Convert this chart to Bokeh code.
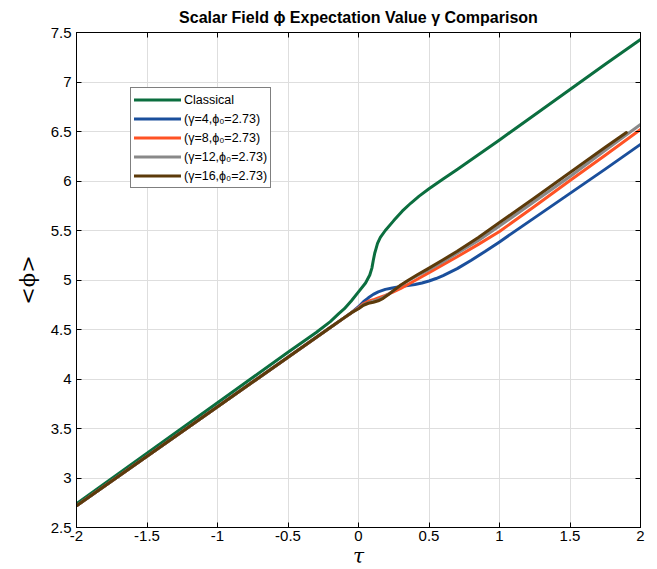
from bokeh.plotting import figure
from bokeh.models import LinearAxis, FixedTicker, Legend, LegendItem, Range1d, CustomLabelingPolicy
from bokeh.embed import file_html
from bokeh.resources import INLINE

# ---------------- data ----------------
tau_classical = [-2.0, -1.5, -1.0, -0.5, -0.3, -0.2, -0.14, -0.1, -0.05, 0.0, 0.05, 0.08, 0.095,
                 0.105, 0.115, 0.125, 0.135, 0.155, 0.19, 0.25, 0.31, 0.37, 0.43, 0.5, 0.6, 0.7,
                 0.85, 1.0, 1.25, 1.5, 1.75, 2.0]
phi_classical = [2.74, 3.25, 3.76, 4.27, 4.47, 4.58, 4.66, 4.71, 4.79, 4.88, 4.97, 5.05, 5.12,
                 5.20, 5.27, 5.32, 5.37, 5.43, 5.50, 5.60, 5.695, 5.775, 5.847, 5.922, 6.02, 6.117,
                 6.265, 6.415, 6.67, 6.925, 7.18, 7.43]

tau_g4 = [-2.0, -1.0, -0.5, -0.2, -0.1, -0.05, 0.0, 0.035, 0.07, 0.105, 0.14, 0.19, 0.24, 0.3,
          0.35, 0.4, 0.45, 0.5, 0.55, 0.6, 0.7, 0.8, 0.9, 1.0, 1.25, 1.5, 1.75, 2.0]
phi_g4 = [2.72, 3.72, 4.22, 4.52, 4.62, 4.67, 4.73, 4.78, 4.82, 4.855, 4.88, 4.905, 4.92, 4.935,
          4.945, 4.955, 4.97, 4.99, 5.015, 5.045, 5.115, 5.20, 5.29, 5.385, 5.63, 5.875, 6.12, 6.37]

tau_g8 = [-2.0, -1.0, -0.5, -0.2, -0.1, -0.05, 0.0, 0.035, 0.07, 0.105, 0.14, 0.19, 0.24, 0.3,
          0.35, 0.42, 0.5, 0.6, 0.7, 0.85, 1.0, 1.25, 1.5, 1.75, 2.0]
phi_g8 = [2.72, 3.72, 4.22, 4.52, 4.62, 4.67, 4.72, 4.76, 4.785, 4.80, 4.82, 4.845, 4.875, 4.915,
          4.955, 5.01, 5.075, 5.155, 5.235, 5.36, 5.49, 5.745, 6.005, 6.26, 6.52]

tau_g12 = [-2.0, -1.0, -0.5, -0.2, -0.1, -0.05, 0.0, 0.035, 0.07, 0.105, 0.14, 0.175, 0.21, 0.25,
           0.3, 0.35, 0.42, 0.5, 0.6, 0.7, 0.85, 1.0, 1.25, 1.5, 1.75, 2.0]
phi_g12 = [2.72, 3.72, 4.22, 4.52, 4.62, 4.67, 4.715, 4.75, 4.77, 4.785, 4.80, 4.825, 4.855, 4.895,
           4.945, 4.99, 5.045, 5.105, 5.185, 5.27, 5.40, 5.545, 5.795, 6.045, 6.31, 6.57]

tau_g16 = [-2.0, -1.0, -0.5, -0.2, -0.1, -0.05, 0.0, 0.035, 0.07, 0.105, 0.14, 0.175, 0.21, 0.25,
           0.3, 0.35, 0.42, 0.5, 0.6, 0.7, 0.85, 1.0, 1.25, 1.5, 1.75, 1.9]
phi_g16 = [2.72, 3.72, 4.22, 4.52, 4.62, 4.67, 4.71, 4.745, 4.765, 4.775, 4.79, 4.815, 4.85, 4.895,
           4.95, 4.995, 5.055, 5.12, 5.205, 5.29, 5.43, 5.58, 5.83, 6.085, 6.34, 6.49]

series_labels = ["Classical", "(γ=4,ϕ₀=2.73)", "(γ=8,ϕ₀=2.73)", "(γ=12,ϕ₀=2.73)", "(γ=16,ϕ₀=2.73)"]
series_colors = ["#0B6E3F", "#1A4F9C", "#FF5224", "#898989", "#5C3A0A"]

x_ticks = [-2, -1.5, -1, -0.5, 0, 0.5, 1, 1.5, 2]
x_tick_labels = ["-2", "-1.5", "-1", "-0.5", "0", "0.5", "1", "1.5", "2"]
y_ticks = [2.5, 3, 3.5, 4, 4.5, 5, 5.5, 6, 6.5, 7, 7.5]
y_tick_labels = ["2.5", "3", "3.5", "4", "4.5", "5", "5.5", "6", "6.5", "7", "7.5"]

FONT = "Liberation Sans"

p = figure(frame_width=564, frame_height=495, x_range=Range1d(-2, 2), y_range=Range1d(2.5, 7.5),
           output_backend="svg", toolbar_location=None,
           min_border_left=76, min_border_right=6, min_border_top=32, min_border_bottom=40)

p.title.text = "Scalar Field ϕ Expectation Value γ Comparison"
p.title.align = "center"
p.title.text_font = FONT
p.title.text_font_size = "16px"
p.title.text_font_style = "bold"
p.title.text_color = "black"
p.title.standoff = 6

p.outline_line_color = "black"
p.outline_line_width = 1
p.background_fill_color = "white"
p.border_fill_color = "white"

for ax, ticks, labels in ((p.xaxis[0], x_ticks, x_tick_labels), (p.yaxis[0], y_ticks, y_tick_labels)):
    ax.ticker = FixedTicker(ticks=ticks)
    ax.major_label_overrides = {t: l for t, l in zip(ticks, labels)}
    ax.major_tick_in = 5
    ax.major_tick_out = 0
    ax.minor_tick_line_color = None
    ax.axis_line_color = "black"
    ax.major_tick_line_color = "black"
    ax.major_label_text_font = FONT
    ax.major_label_text_font_size = "15px"
    ax.major_label_text_color = "black"
    ax.axis_label_text_color = "black"
    ax.axis_label_text_font_style = "normal"

p.xaxis.axis_label = "τ"
p.xaxis.axis_label_text_font = "DejaVu Serif"
p.xaxis.axis_label_text_font_style = "italic"
p.xaxis.axis_label_text_font_size = "20px"
p.xaxis.axis_label_standoff = 0
p.xaxis.major_label_standoff = 3

p.yaxis.axis_label = "<ϕ>"
p.yaxis.axis_label_text_font = "DejaVu Serif"
p.yaxis.axis_label_text_font_size = "21px"
p.yaxis.axis_label_standoff = 8
p.yaxis.major_label_standoff = 5

# inward ticks on top and right (box style), no labels
no_labels = CustomLabelingPolicy(code="for (const i of indices) { indices.unset(i) } return indices")
top = LinearAxis(ticker=FixedTicker(ticks=x_ticks), major_tick_in=5, major_tick_out=0,
                 minor_tick_line_color=None, major_label_policy=no_labels,
                 major_label_text_font_size="1px",
                 major_label_standoff=0, axis_line_color="black")
right = LinearAxis(ticker=FixedTicker(ticks=y_ticks), major_tick_in=5, major_tick_out=0,
                   minor_tick_line_color=None, major_label_policy=no_labels,
                   major_label_text_font_size="1px",
                   major_label_standoff=0, axis_line_color="black")
p.add_layout(top, "above")
p.add_layout(right, "right")

p.grid.grid_line_color = "#DEDEDE"
p.grid.grid_line_width = 1

series = [(tau_classical, phi_classical), (tau_g4, phi_g4), (tau_g8, phi_g8),
          (tau_g12, phi_g12), (tau_g16, phi_g16)]
items = []
for (xs, ys), lab, col in zip(series, series_labels, series_colors):
    r = p.line(xs, ys, line_color=col, line_width=3, line_join="round", line_cap="round")
    items.append(LegendItem(label=lab, renderers=[r]))

legend = Legend(items=items, location=(54, 339))
legend.border_line_color = "black"
legend.border_line_width = 1
legend.background_fill_color = "white"
legend.background_fill_alpha = 1
legend.label_text_font = FONT
legend.label_text_font_size = "12.5px"
legend.label_text_color = "black"
legend.glyph_width = 47
legend.glyph_height = 17
legend.label_height = 17
legend.label_standoff = 3
legend.spacing = 2
legend.padding = 3
legend.margin = 0
p.add_layout(legend)

open("out.html", "w").write(file_html(p, INLINE))
